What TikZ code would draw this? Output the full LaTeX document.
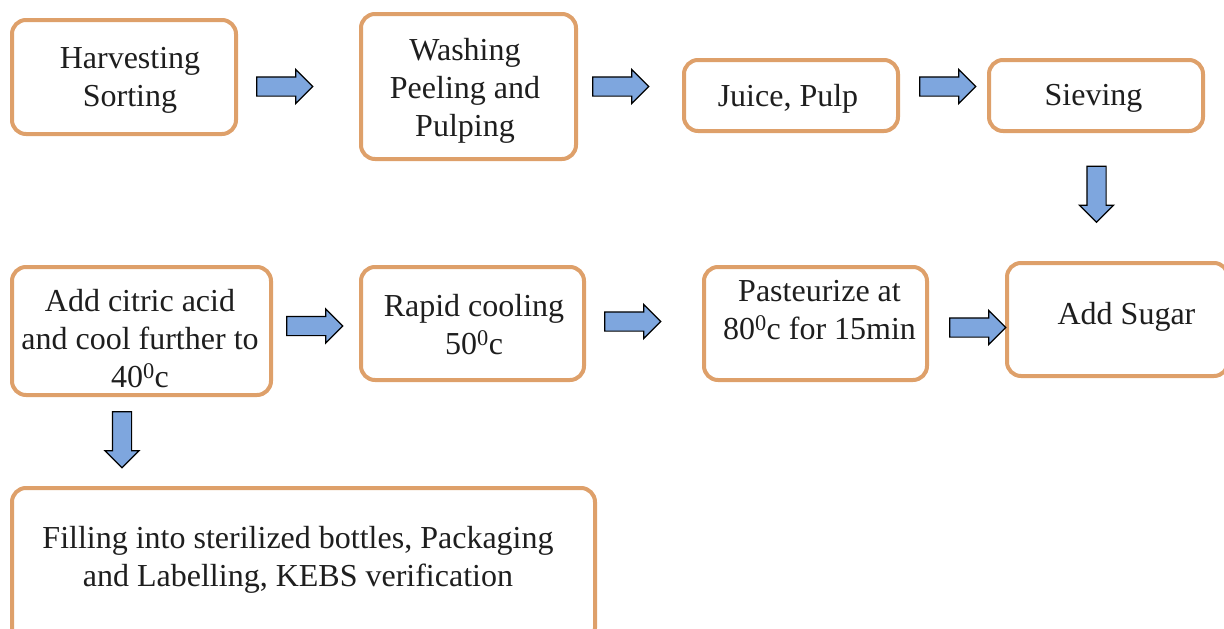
\documentclass[tikz,border=0pt]{standalone}
\usepackage{fontspec}
\setmainfont{Liberation Serif}
\usetikzlibrary{shapes.arrows}
\definecolor{boxorange}{RGB}{222,160,106}
\definecolor{arrowblue}{RGB}{126,166,222}
\definecolor{inkblack}{RGB}{30,30,30}
\begin{document}
\begin{tikzpicture}[x=1pt,y=-1pt,
  box/.style={draw=boxorange, line width=4pt, rounded corners=14pt, fill=white, inner sep=0pt},
  txt/.style={align=center, font=\fontsize{32}{38}\selectfont, text=inkblack, inner sep=0pt},
  blockarrow/.style={single arrow, draw=black, line width=1.2pt, fill=arrowblue, inner sep=0pt,
    text height=18pt, text depth=0pt, minimum width=33pt, single arrow head extend=7.5pt,
    minimum height=56pt},
  downarrow/.style={blockarrow, shape border rotate=270, text width=18pt, text height=0pt}
]
\useasboundingbox (0,0) rectangle (1224,629);

% boxes
\node[box, minimum width=224pt, minimum height=114pt] (b1) at (124,77) {};
\node[box, minimum width=215pt, minimum height=145pt] (b2) at (468.5,86.5) {};
\node[box, minimum width=214pt, minimum height=71pt] (b3) at (791,95.5) {};
\node[box, minimum width=214pt, minimum height=71pt] (b4) at (1096,95.5) {};
\node[box, minimum width=221pt, minimum height=113pt] (b5) at (1117.5,319.5) {};
\node[box, minimum width=223pt, minimum height=113pt] (b6) at (815.5,323.5) {};
\node[box, minimum width=223pt, minimum height=113pt] (b7) at (472.5,323.5) {};
\node[box, minimum width=259pt, minimum height=128pt] (b8) at (141.5,331) {};
\node[box, minimum width=583pt, minimum height=154pt] (b9) at (303.5,565) {};

% texts
\node[txt] (t1) at (130,80) {Harvesting\\Sorting};
\node[txt] (t2) at (465,90.5) {Washing\\Peeling and\\Pulping};
\node[txt] (t3) at (788,98.5) {Juice, Pulp};
\node[txt] (t4) at (1093.5,98.5) {Sieving};
\node[txt] (t5) at (1126.5,317) {Add Sugar};
\node[txt] (t6) at (819.5,310) {Pasteurize at\\80\textsuperscript{0}c for 15min};
\node[txt] (t7) at (474,325) {Rapid cooling\\50\textsuperscript{0}c};
\node[txt] (t8) at (140,339) {Add citric acid\\and cool further to\\40\textsuperscript{0}c};
\node[txt] (t9) at (298,560) {Filling into sterilized bottles, Packaging\\and Labelling, KEBS verification};

% block arrows
\node[blockarrow] (a1) at (280,86.5) {};
\node[blockarrow] (a2) at (616,86.5) {};
\node[blockarrow] (a3) at (943,86.5) {};
\node[downarrow] (d1) at (1096.5,189.5) {};
\node[blockarrow] (a4) at (310,326) {};
\node[blockarrow] (a5) at (628,321.5) {};
\node[blockarrow] (a6) at (973,327.5) {};
\node[downarrow] (d2) at (122,435) {};
\end{tikzpicture}
\end{document}
